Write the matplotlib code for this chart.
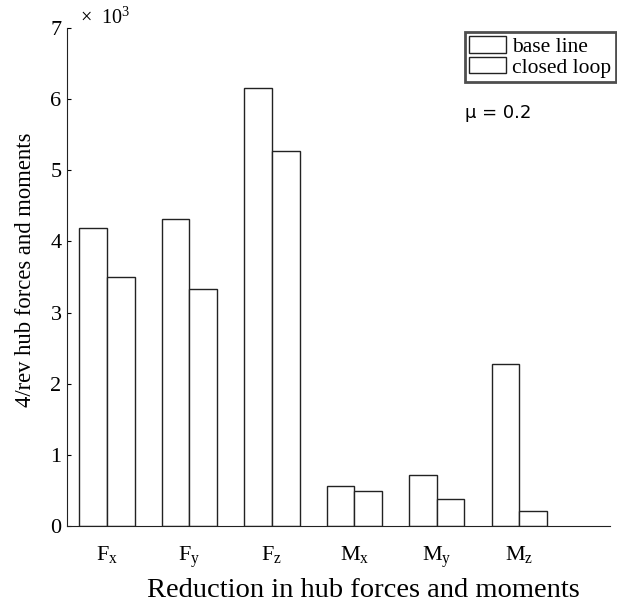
import matplotlib
matplotlib.use("Agg")
import matplotlib.pyplot as plt
from matplotlib.patches import Patch
import numpy as np

categories = ["$\\mathregular{F_x}$", "$\\mathregular{F_y}$", "$\\mathregular{F_z}$",
              "$\\mathregular{M_x}$", "$\\mathregular{M_y}$", "$\\mathregular{M_z}$"]
base_line = [4.19, 4.32, 6.15, 0.56, 0.72, 2.27]
closed_loop = [3.50, 3.33, 5.27, 0.49, 0.38, 0.21]
yticks = [0, 1, 2, 3, 4, 5, 6, 7]

plt.rcParams['font.family'] = ['Liberation Serif', 'DejaVu Serif']
plt.rcParams['mathtext.fontset'] = 'custom'
plt.rcParams['mathtext.rm'] = 'Liberation Serif'

fig = plt.figure(figsize=(6.17, 6.06), dpi=100)
ax = fig.add_axes([0.1086, 0.132, 0.88, 0.822])

x = np.arange(len(categories))
w = 0.335
ax.bar(x - w/2, base_line, w, facecolor='white', edgecolor='#222222', linewidth=1.0)
ax.bar(x + w/2, closed_loop, w, facecolor='white', edgecolor='#222222', linewidth=1.0)

ax.set_xlim(-0.485, 6.1)
ax.set_ylim(0, 7)
ax.set_yticks(yticks)
ax.set_yticklabels([str(t) for t in yticks], fontsize=16)
ax.set_xticks(x)
ax.set_xticklabels(categories, fontsize=16)
ax.tick_params(axis='x', length=0, pad=13)
ax.tick_params(axis='y', direction='in', length=3, pad=4)
for s in ['top', 'right']:
    ax.spines[s].set_visible(False)
for s in ['left', 'bottom']:
    ax.spines[s].set_color('#222222')

ax.set_xlabel("Reduction in hub forces and moments", fontsize=20.5, labelpad=4)
ax.xaxis.set_label_coords(0.545, -0.105)
ax.set_ylabel("4/rev hub forces and moments", fontsize=16.3, labelpad=6)
ax.yaxis.set_label_coords(-0.058, 0.514)

fig.text(80/617, 1 - 18/606, "×  10$^{3}$", fontsize=14.5, va='center', ha='left')
fig.text(465/617, 1 - 113/606, "μ = 0.2", fontsize=13, va='center', ha='left',
         family='DejaVu Sans')

handles = [Patch(facecolor='white', edgecolor='#222222', label='base line'),
           Patch(facecolor='white', edgecolor='#222222', label='closed loop')]
leg = fig.legend(handles=handles, loc='upper right', bbox_to_anchor=(0.998, 1 - 32/606),
                 fontsize=15.5, frameon=True, fancybox=False, edgecolor='#222222',
                 borderpad=0.2, handlelength=1.7, handleheight=0.8, handletextpad=0.3,
                 labelspacing=0.0, borderaxespad=0.0)
leg.get_frame().set_linewidth(2)

fig.savefig("out.png", dpi=100)
